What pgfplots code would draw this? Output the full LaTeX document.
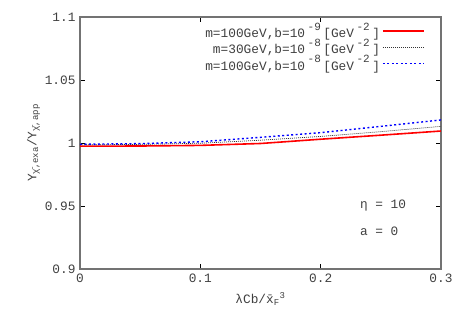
\documentclass[border=0pt]{standalone}
\usepackage{fontspec}
\setmainfont{Liberation Mono}
\usepackage{pgfplots}
\pgfplotsset{compat=1.18}
\definecolor{framegray}{gray}{0.45}
\definecolor{txtgray}{gray}{0.25}
\newcommand{\gsup}[1]{\hspace{2.5pt}\raisebox{0.55em}{\fontsize{11pt}{11pt}\selectfont #1}\hspace{2.5pt}}
\begin{document}
\fontsize{12.8pt}{14pt}\selectfont
\begin{tikzpicture}
\path[use as bounding box] (-80pt,-59pt) rectangle (389pt,269pt);
\begin{axis}[
    at={(0,0)}, anchor=south west,
    scale only axis, width=361pt, height=252pt,
    xmin=0, xmax=0.3, ymin=0.9, ymax=1.1,
    xtick={0,0.1,0.2,0.3},
    ytick={0.9,0.95,1,1.05,1.1},
    /pgf/number format/assume math mode=true,
    ticklabel style={font=\fontsize{12.8pt}{14pt}\selectfont, text=txtgray},
    tick style={black, line width=0.8pt},
    major tick length=5pt,
    axis line style={framegray, line width=1.2pt},
    xlabel={λCb/\={x}\textsubscript{F}\textsuperscript{3}},
    ylabel={Y\textsubscript{\={χ},exa}/Y\textsubscript{\={χ},app}},
    label style={font=\fontsize{12.8pt}{14pt}\selectfont, text=txtgray},
    xlabel style={yshift=-2pt},
    ylabel style={yshift=-4pt},
    legend style={draw=none, fill=none, at={(0.955,0.985)}, anchor=north east,
        font=\fontsize{12.8pt}{12pt}\selectfont, text=txtgray,
        row sep=-4pt, inner sep=0pt},
    legend cell align=right,
    legend plot pos=right,
    legend image post style={xscale=2.4},
]
\addplot[red, line width=1.6pt] coordinates {
(0,0.9975) (0.05,0.9976) (0.1,0.9981) (0.15,0.9996) (0.2,1.003) (0.25,1.0062) (0.3,1.0095)
};
\addlegendentry{m=100GeV,b=10\gsup{-9}[GeV\gsup{-2}]}
\addplot[black!80, line width=0.7pt, dash pattern=on 1pt off 1pt] coordinates {
(0,0.9985) (0.05,0.9989) (0.1,0.9998) (0.15,1.0022) (0.2,1.0052) (0.25,1.009) (0.3,1.0132)
};
\addlegendentry{m=30GeV,b=10\gsup{-8}[GeV\gsup{-2}]}
\addplot[blue, line width=1.4pt, dash pattern=on 2pt off 2.5pt] coordinates {
(0,0.999) (0.05,0.9995) (0.1,1.001) (0.15,1.0045) (0.2,1.0082) (0.25,1.0132) (0.3,1.0183)
};
\addlegendentry{m=100GeV,b=10\gsup{-8}[GeV\gsup{-2}]}
\node[anchor=west, text=txtgray] at (axis cs:0.229,0.95) {η = 10};
\node[anchor=west, text=txtgray] at (axis cs:0.229,0.93) {a = 0};
\end{axis}
\end{tikzpicture}
\end{document}
